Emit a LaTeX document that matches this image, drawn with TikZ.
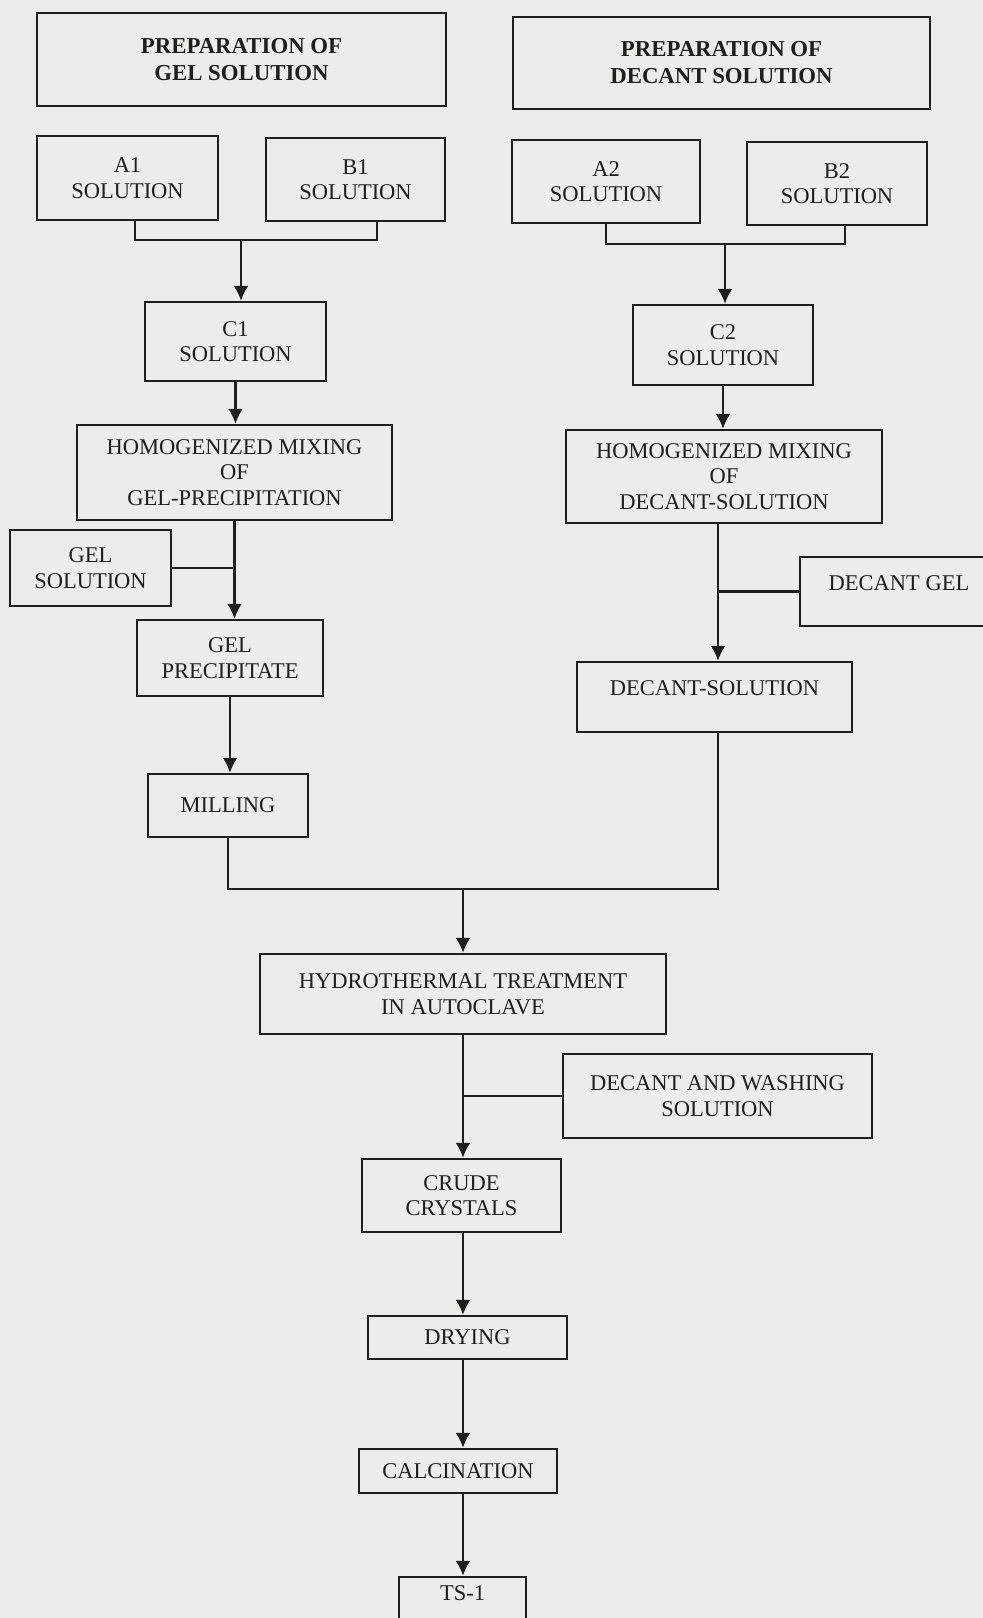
\documentclass[tikz,border=0pt]{standalone}
\usepackage{fontspec}
\setmainfont{Liberation Serif}
\usetikzlibrary{arrows.meta}
\definecolor{paper}{RGB}{236,236,234}
\definecolor{ink}{RGB}{30,30,30}

\begin{document}
\begin{tikzpicture}[x=1pt,y=-1pt,line width=2.4pt,draw=ink,text=ink,
    >={Latex[length=15pt,width=15pt]},
    font=\fontsize{22.5}{25.5}\selectfont]
    \tikzstyle{box}=[draw=ink,rectangle,line width=2.4pt,align=center,inner sep=0pt]
    \tikzstyle{title box}=[box,font=\fontsize{22.8}{27}\selectfont\bfseries]

    \useasboundingbox (0,0) rectangle (983,1618);
    \clip (0,0) rectangle (983,1618);
    \fill[paper] (0,0) rectangle (983,1618);

    % Gel solution branch
    \node[title box,minimum width=409pt,minimum height=93pt] (prepgel) at (241.5,59.5) {PREPARATION OF\\GEL SOLUTION};
    \node[box,minimum width=181pt,minimum height=84pt] (A1) at (127.5,178) {A1\\SOLUTION};
    \node[box,minimum width=179pt,minimum height=83pt] (B1) at (355.5,179.5) {B1\\SOLUTION};
    \node[box,minimum width=181pt,minimum height=79pt] (C1) at (235.5,341.5) {C1\\SOLUTION};
    \node[box,minimum width=315pt,minimum height=95pt] (hom1) at (234.5,472.5) {HOMOGENIZED MIXING\\OF\\GEL-PRECIPITATION};
    \node[box,minimum width=161pt,minimum height=76pt] (gelsol) at (90.5,568) {GEL\\SOLUTION};
    \node[box,minimum width=186pt,minimum height=76pt] (gelprec) at (230,658) {GEL\\PRECIPITATE};
    \node[box,minimum width=160pt,minimum height=63pt] (milling) at (228,805.5) {MILLING};

    % Decant solution branch
    \node[title box,minimum width=417pt,minimum height=92pt] (prepdec) at (721.5,63) {PREPARATION OF\\DECANT SOLUTION};
    \node[box,minimum width=188pt,minimum height=83pt] (A2) at (606,181.5) {A2\\SOLUTION};
    \node[box,minimum width=180pt,minimum height=83pt] (B2) at (837,183.5) {B2\\SOLUTION};
    \node[box,minimum width=180pt,minimum height=80pt] (C2) at (723,345) {C2\\SOLUTION};
    \node[box,minimum width=316pt,minimum height=93pt] (hom2) at (724,476.5) {HOMOGENIZED MIXING\\OF\\DECANT-SOLUTION};
    \node[box,minimum width=198pt,minimum height=69pt,text depth=17pt] (decgel) at (899,591.5) {DECANT GEL};
    \node[box,minimum width=275pt,minimum height=70pt,text depth=18pt] (decsol) at (714.5,697) {DECANT-SOLUTION};

    % Common steps
    \node[box,minimum width=406pt,minimum height=80pt] (hydro) at (463,994) {HYDROTHERMAL TREATMENT\\IN AUTOCLAVE};
    \node[box,minimum width=309pt,minimum height=84pt] (decwash) at (717.5,1096) {DECANT AND WASHING\\SOLUTION};
    \node[box,minimum width=199pt,minimum height=73pt] (crude) at (461.5,1195.5) {CRUDE\\CRYSTALS};
    \node[box,minimum width=199pt,minimum height=43pt] (drying) at (467.5,1337.5) {DRYING};
    \node[box,minimum width=198pt,minimum height=44pt] (calc) at (458,1471) {CALCINATION};
    \node[box,minimum width=127pt,minimum height=70pt,text depth=38pt] (ts) at (462.5,1612) {TS-1};

    % Junction points
    \coordinate (a1leg) at (135,240);
    \coordinate (b1leg) at (377,240);
    \coordinate (j1) at (241,240);
    \coordinate (a2leg) at (606,244);
    \coordinate (b2leg) at (845,244);
    \coordinate (j2) at (725,244);
    \coordinate (k2) at (718,593);
    \coordinate (m1) at (228,889);
    \coordinate (m2) at (718,889);
    \coordinate (j3) at (463,889);

    % Gel side connectors
    \draw (a1leg |- A1.south) -- (a1leg) -- (b1leg) -- (b1leg |- B1.south);
    \draw[->] (j1) -- (j1 |- C1.north);
    \draw[->] (C1.south) -- (C1.south |- hom1.north);
    \draw[->] (hom1.south) -- (hom1.south |- gelprec.north);
    \draw (gelsol.east) -- (gelsol.east -| hom1.south);
    \draw[->] (gelprec.south) -- (gelprec.south |- milling.north);

    % Decant side connectors
    \draw (a2leg |- A2.south) -- (a2leg) -- (b2leg) -- (b2leg |- B2.south);
    \draw[->] (j2) -- (j2 |- C2.north);
    \draw[->] (C2.south) -- (C2.south |- hom2.north);
    \draw[->] (k2 |- hom2.south) -- (k2 |- decsol.north);
    \draw (decgel.west) -- (decgel.west -| k2);

    % Merge both branches
    \draw (milling.south) -- (m1) -- (m2) -- (m2 |- decsol.south);
    \draw[->] (j3) -- (j3 |- hydro.north);
    \draw (decwash.west) -- (decwash.west -| j3);
    \foreach \src/\dst in {hydro/crude,crude/drying,drying/calc,calc/ts}
        \draw[->] (\src.south -| j3) -- (j3 |- \dst.north);
\end{tikzpicture}
\end{document}
